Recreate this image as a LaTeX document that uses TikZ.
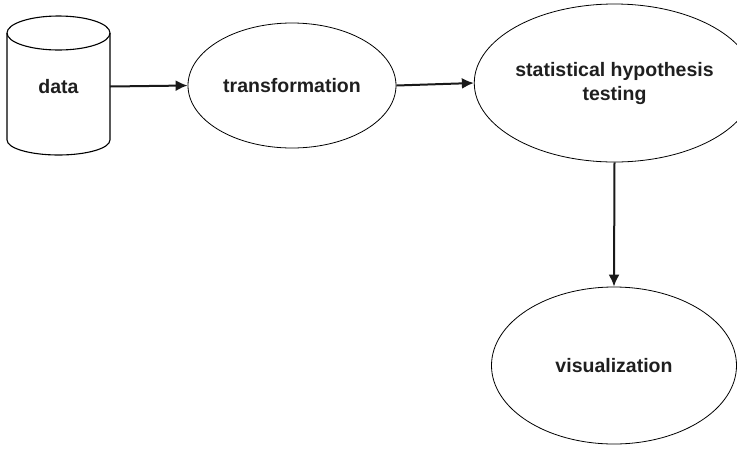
\documentclass[tikz,border=0pt]{standalone}
\usepackage{fontspec}
\setmainfont{Liberation Sans}
\usetikzlibrary{positioning}
\usetikzlibrary{arrows.meta}
\usetikzlibrary{shapes.geometric}

\begin{document}
\begin{tikzpicture}[x=1pt,y=-1pt,>={Latex[length=12pt,width=11pt]},font=\fontsize{19.5}{24}\selectfont\bfseries]
	\useasboundingbox (0,0) rectangle (737,448);
	\tikzset{stage/.style={ellipse,draw=black,line width=.8pt,inner sep=0pt,align=center,text=black!88},
		flow/.style={->,line width=2pt,black!90}}

	% storage drum
	\node [minimum width=103pt,minimum height=107pt,inner sep=0pt,outer sep=0pt,text=black!88] at (58.5,86.5) (data) {\raisebox{-3pt}{data}};
	\draw [line width=1.1pt] (data.north west) -- (data.south west) arc[start angle=180,end angle=360,x radius=51.5pt,y radius=15pt] -- (data.north east);
	\draw [line width=1.1pt] (data.north) ellipse [x radius=51.5pt,y radius=17pt];

	\node [stage,minimum width=208pt,minimum height=125pt] at (292,85.5) (transf) {transformation};
	\node [stage,minimum width=245pt,minimum height=158pt] at (614.5,83) (hyptest) {statistical hypothesis\\testing};
	\node [stage,minimum width=245pt,minimum height=157pt] at (614,365.5) (visual) {visualization};

	\draw [flow] (data.east) -- (transf.west);
	\draw [flow] (transf.east) -- (hyptest.west);
	\draw [flow] (hyptest.south) -- (visual.north);
\end{tikzpicture}
\end{document}
